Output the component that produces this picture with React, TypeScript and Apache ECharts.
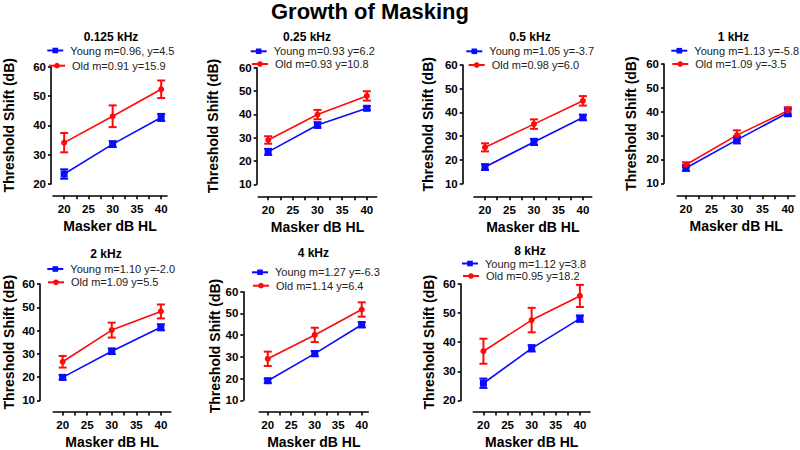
import React, { useEffect, useRef } from "react";
import * as echarts from "echarts";

const FONT = "'Liberation Sans', Arial, sans-serif";
const YOUNG_COLOR = "#0a0aff";
const OLD_COLOR = "#ff0a0a";

// ---- data ----
const mainTitle = "Growth of Masking";
const maskerLevels = [20, 30, 40];
const xTickValues = [20, 22.5, 25, 27.5, 30, 32.5, 35, 37.5, 40];
const xLabelValues = [20, 25, 30, 35, 40];
const panelTitles = ["0.125 kHz", "0.25 kHz", "0.5 kHz", "1 kHz", "2 kHz", "4 kHz", "8 kHz"];
const youngNames = [
  "Young m=0.96, y=4.5",
  "Young m=0.93 y=6.2",
  "Young m=1.05 y=-3.7",
  "Young m=1.13 y=-5.8",
  "Young m=1.10 y=-2.0",
  "Young m=1.27 y=-6.3",
  "Young m=1.12 y=3.8",
];
const oldNames = [
  "Old m=0.91 y=15.9",
  "Old m=0.93 y=10.8",
  "Old m=0.98 y=6.0",
  "Old m=1.09 y=-3.5",
  "Old m=1.09 y=5.5",
  "Old m=1.14 y=6.4",
  "Old m=0.95 y=18.2",
];
const youngMeans = [
  [23.4, 33.6, 42.7],
  [23.9, 35.4, 42.6],
  [17.0, 27.6, 37.9],
  [16.4, 28.2, 39.6],
  [19.9, 31.1, 41.4],
  [19.0, 31.5, 44.8],
  [25.9, 37.9, 48.1],
];
const youngErr = [
  [1.6, 1.0, 1.2],
  [1.3, 1.2, 0.8],
  [1.2, 1.3, 1.2],
  [1.2, 1.5, 1.5],
  [1.0, 1.2, 1.3],
  [1.0, 1.2, 1.2],
  [1.6, 1.1, 1.1],
];
const oldMeans = [
  [34.1, 43.1, 52.3],
  [29.0, 39.9, 47.9],
  [25.3, 35.1, 44.9],
  [17.8, 30.2, 40.4],
  [26.6, 40.2, 48.2],
  [29.1, 40.1, 51.8],
  [36.9, 47.6, 55.9],
];
const oldErr = [
  [3.3, 3.7, 3.0],
  [1.6, 2.0, 2.0],
  [1.7, 2.0, 2.0],
  [1.0, 2.0, 1.5],
  [2.5, 3.2, 3.0],
  [3.3, 3.3, 3.3],
  [4.3, 4.2, 3.8],
];
const yMins = [20, 10, 10, 10, 10, 10, 20];
const yMax = 60;
const yInterval = 10;
const xAxisTitle = "Masker dB HL";
const yAxisTitle = "Threshold Shift (dB)";

// ---- layout (pixel geometry) ----
const layout = [
  { left: 53, right: 167, top: 66.7, bottom: 184, xAxisY: 195.7, yAxisX: 51, xMin: 17.7, xMax: 41.2, yGap: 35, title: [111, 37.5], leg: [69.3, 51.5, 71, 66.7] },
  { left: 258.3, right: 376.7, top: 67.7, bottom: 184.3, xAxisY: 196.7, yAxisX: 256.7, xMin: 18, xMax: 42, yGap: 37, title: [307, 37], leg: [272.7, 52.3, 274, 65] },
  { left: 474, right: 591.7, top: 65, bottom: 183.7, xAxisY: 196.7, yAxisX: 462.7, xMin: 17.75, xMax: 41.8, yGap: 27.5, title: [530, 37], leg: [488.3, 52.3, 490.7, 66] },
  { left: 677.3, right: 795, top: 64, bottom: 183.3, xAxisY: 195.7, yAxisX: 664, xMin: 18.3, xMax: 41.4, yGap: 26, title: [733.3, 37], leg: [693.3, 51.7, 694.3, 65] },
  { left: 53.3, right: 170.7, top: 284, bottom: 401.7, xAxisY: 413.3, yAxisX: 40, xMin: 18.1, xMax: 42, yGap: 24.5, title: [106, 254], leg: [69.3, 270, 70, 283.3] },
  { left: 259.3, right: 368.3, top: 291.7, bottom: 403.3, xAxisY: 415, yAxisX: 243.3, xMin: 18.2, xMax: 41.4, yGap: 21, title: [313.3, 253.3], leg: [274, 273.3, 275, 286.7] },
  { left: 473.3, right: 590, top: 284, bottom: 401.7, xAxisY: 413.3, yAxisX: 460.7, xMin: 17.9, xMax: 42.1, yGap: 25, title: [530, 251.5], leg: [484, 264.5, 485, 277] },
];

function errorSeries(color: string, means: number[], errs: number[], idx: number) {
  return {
    type: "custom",
    xAxisIndex: idx,
    yAxisIndex: idx,
    z: 2,
    silent: true,
    encode: { x: 0, y: [1, 2] },
    data: maskerLevels.map((x, i) => [x, means[i] - errs[i], means[i] + errs[i]]),
    renderItem: (_params: any, api: any) => {
      const x = api.value(0);
      const lo = api.coord([x, api.value(1)]);
      const hi = api.coord([x, api.value(2)]);
      const hw = 4;
      const style = { stroke: color, lineWidth: 2, fill: "none" };
      return {
        type: "group",
        children: [
          { type: "line", shape: { x1: lo[0], y1: lo[1], x2: hi[0], y2: hi[1] }, style },
          { type: "line", shape: { x1: lo[0] - hw, y1: lo[1], x2: lo[0] + hw, y2: lo[1] }, style },
          { type: "line", shape: { x1: hi[0] - hw, y1: hi[1], x2: hi[0] + hw, y2: hi[1] }, style },
        ],
      };
    },
  };
}

function buildOption() {
  const grid: any[] = [];
  const xAxis: any[] = [];
  const yAxis: any[] = [];
  const series: any[] = [];
  const legend: any[] = [];
  const title: any[] = [
    {
      text: mainTitle,
      left: 370,
      top: 0,
      padding: 0,
      textAlign: "center",
      textStyle: { fontFamily: FONT, fontSize: 22, fontWeight: "bold", color: "#000" },
    },
  ];
  const axisLineStyle = { color: "#000", width: 1.6 };

  panelTitles.forEach((pt, i) => {
    const L = layout[i];
    grid.push({ left: L.left, top: L.top, width: L.right - L.left, height: L.bottom - L.top });
    xAxis.push({
      type: "value",
      gridIndex: i,
      min: L.xMin,
      max: L.xMax,
      offset: L.xAxisY - L.bottom,
      axisLine: { show: true, onZero: false, lineStyle: axisLineStyle },
      axisTick: { show: true, customValues: xTickValues, length: 3.5, lineStyle: axisLineStyle },
      axisLabel: {
        customValues: xLabelValues,
        fontFamily: FONT,
        fontSize: 11.5,
        fontWeight: "bold",
        color: "#000",
        margin: 7,
      },
      splitLine: { show: false },
      name: xAxisTitle,
      nameLocation: "middle",
      nameGap: 23,
      nameTextStyle: { fontFamily: FONT, fontSize: 14, fontWeight: "bold", color: "#000" },
    });
    yAxis.push({
      type: "value",
      gridIndex: i,
      min: yMins[i],
      max: yMax,
      interval: yInterval,
      offset: L.left - L.yAxisX,
      axisLine: { show: true, onZero: false, lineStyle: axisLineStyle },
      axisTick: { show: true, length: 3, lineStyle: axisLineStyle },
      axisLabel: { fontFamily: FONT, fontSize: 11.5, fontWeight: "bold", color: "#000", margin: 5 },
      splitLine: { show: false },
      name: yAxisTitle,
      nameLocation: "middle",
      nameGap: L.yGap,
      nameTextStyle: { fontFamily: FONT, fontSize: 14, fontWeight: "bold", color: "#000" },
    });
    title.push({
      text: pt,
      left: L.title[0],
      top: L.title[1] - 6.5,
      padding: 0,
      textAlign: "center",
      textStyle: { fontFamily: FONT, fontSize: 12, fontWeight: "bold", color: "#000" },
    });

    series.push(errorSeries(YOUNG_COLOR, youngMeans[i], youngErr[i], i));
    series.push(errorSeries(OLD_COLOR, oldMeans[i], oldErr[i], i));
    series.push({
      type: "line",
      name: youngNames[i],
      xAxisIndex: i,
      yAxisIndex: i,
      z: 3,
      data: maskerLevels.map((x, k) => [x, youngMeans[i][k]]),
      symbol: "rect",
      symbolSize: 7,
      color: YOUNG_COLOR,
      lineStyle: { width: 1.6, color: YOUNG_COLOR },
      itemStyle: { color: YOUNG_COLOR },
    });
    series.push({
      type: "line",
      name: oldNames[i],
      xAxisIndex: i,
      yAxisIndex: i,
      z: 3,
      data: maskerLevels.map((x, k) => [x, oldMeans[i][k]]),
      symbol: "circle",
      symbolSize: 6,
      color: OLD_COLOR,
      lineStyle: { width: 1.6, color: OLD_COLOR },
      itemStyle: { color: OLD_COLOR },
    });

    const legBase = {
      orient: "horizontal",
      itemWidth: 16,
      itemHeight: 7,
      padding: 0,
      selectedMode: false,
      textStyle: { fontFamily: FONT, fontSize: 11, color: "#222", padding: [0, 0, 0, 2] },
    };
    legend.push({ ...legBase, data: [youngNames[i]], left: L.leg[0] - 23, top: L.leg[1] - 6.5 });
    legend.push({ ...legBase, data: [oldNames[i]], left: L.leg[2] - 23, top: L.leg[3] - 6.5 });
  });

  return {
    animation: false,
    backgroundColor: "#fff",
    title,
    legend,
    grid,
    xAxis,
    yAxis,
    series,
  };
}

export default function App() {
  const ref = useRef<HTMLDivElement>(null);
  useEffect(() => {
    if (!ref.current) return;
    const chart = echarts.init(ref.current, undefined, { renderer: "svg" });
    chart.setOption(buildOption() as any);
    return () => chart.dispose();
  }, []);
  return (
    <div
      ref={ref}
      style={{ position: "fixed", left: 0, top: 0, width: 800, height: 450, background: "#fff" }}
    />
  );
}
